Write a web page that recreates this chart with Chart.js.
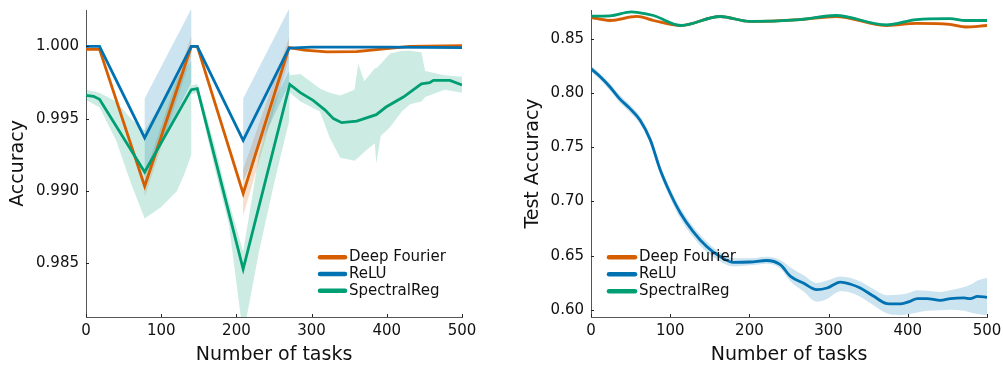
<!DOCTYPE html>
<html>
<head>
<meta charset="utf-8">
<script src="https://cdn.jsdelivr.net/npm/chart.js@4.4.0/dist/chart.umd.min.js"></script>
<style>
  html, body { margin: 0; padding: 0; background: #fff; }
  #wrap { position: relative; width: 1003px; height: 366px; }
  .box { position: absolute; top: 0; height: 366px; }
  #leftBox { left: 0; width: 490px; }
  #rightBox { left: 490px; width: 513px; }
</style>
</head>
<body>
<div id="wrap">
  <div class="box" id="leftBox"><canvas id="leftChart"></canvas></div>
  <div class="box" id="rightBox"><canvas id="rightChart"></canvas></div>
</div>
<script>
const taskTicks = [0, 100, 200, 300, 400, 500];
const leftYTicks = [0.985, 0.990, 0.995, 1.000];
const rightYTicks = [0.60, 0.65, 0.70, 0.75, 0.80, 0.85];

// left panel: accuracy
const fourierX = [0, 18, 78, 140, 148, 209, 270, 290, 320, 360, 400, 430, 500];
const fourierAcc = [0.99980, 0.99980, 0.99033, 1.00000, 1.00000, 0.98983, 0.99992, 0.99975, 0.99962, 0.99964, 0.99985, 1.00000, 1.00005];
const reluX = [0, 18, 78, 140, 148, 209, 270, 300, 400, 500];
const reluAcc = [1.00000, 1.00000, 0.99367, 1.00000, 1.00000, 0.99351, 0.99988, 0.99995, 0.99995, 0.99992];
const spectralX = [0, 10, 18, 78, 140, 148, 209, 271, 285, 302, 318, 329, 340, 360, 386, 399, 422, 446, 457, 462, 484, 500];
const spectralAcc = [0.99662, 0.99655, 0.99634, 0.99132, 0.99701, 0.99708, 0.98460, 0.99738, 0.99680, 0.99627, 0.99560, 0.99501, 0.99473, 0.99484, 0.99528, 0.99581, 0.99650, 0.99742, 0.99749, 0.99765, 0.99765, 0.99733];

const fourierBandX = [0, 18, 78, 78, 140, 140, 148, 209, 209, 270, 270, 320, 400, 500];
const fourierLo = [0.99975, 0.99975, 0.99033, 0.98960, 0.99930, 1.00000, 1.00000, 0.98983, 0.98830, 0.99920, 0.99992, 0.99955, 0.99978, 1.00002];
const fourierHi = [0.99985, 0.99985, 0.99033, 0.99110, 1.00070, 1.00000, 1.00000, 0.98983, 0.99150, 1.00060, 0.99992, 0.99970, 0.99992, 1.00008];
const reluBandX = [0, 18, 78, 78, 140, 140, 148, 209, 209, 270, 270, 500];
const reluLo = [1.00000, 1.00000, 0.99367, 0.99100, 0.99750, 1.00000, 1.00000, 0.99351, 0.99070, 0.99740, 0.99988, 0.99992];
const reluHi = [1.00000, 1.00000, 0.99367, 0.99640, 1.00260, 1.00000, 1.00000, 0.99351, 0.99640, 1.00260, 0.99988, 0.99992];
const spectralBandX = [0, 18, 40, 60, 78, 100, 121, 131, 140, 140, 148, 170, 190, 209, 230, 250, 270, 271, 285, 311, 324, 338, 357, 362, 370, 384, 386, 392, 404, 420, 431, 446, 451, 477, 500];
const spectralLo = [0.9963, 0.9958, 0.9935, 0.9905, 0.9881, 0.9889, 0.9900, 0.9912, 0.9925, 0.9967, 0.9968, 0.9918, 0.9877, 0.9800, 0.9858, 0.9905, 0.9948, 0.9968, 0.9962, 0.9955, 0.9937, 0.9923, 0.9921, 0.9923, 0.9927, 0.9933, 0.9919, 0.9938, 0.9944, 0.9955, 0.9960, 0.9962, 0.9965, 0.9970, 0.9968];
const spectralHi = [0.9970, 0.9968, 0.9962, 0.9950, 0.9942, 0.9960, 0.9978, 0.9984, 0.9990, 0.9973, 0.9974, 0.9934, 0.9893, 0.9858, 0.9925, 0.9962, 0.9983, 0.9980, 0.9981, 0.9971, 0.9968, 0.9966, 0.9970, 0.9988, 0.9976, 0.9985, 0.9985, 0.9988, 0.9995, 0.9997, 0.9997, 0.9996, 0.9983, 0.9980, 0.9979];

// right panel: test accuracy
const testX = [0, 12, 24, 36, 49, 62, 75, 87, 100, 113, 129, 146, 163, 180, 201, 222, 239, 252, 268, 285, 298, 315, 327, 340, 357, 374, 391, 403, 412, 424, 441, 454, 471, 479, 488, 500];
const reluTest = [0.8227, 0.8150, 0.8058, 0.7950, 0.7860, 0.7751, 0.7567, 0.7300, 0.7076, 0.6892, 0.6722, 0.6584, 0.6492, 0.6437, 0.6441, 0.6455, 0.6416, 0.6308, 0.6247, 0.6186, 0.6201, 0.6256, 0.6238, 0.6201, 0.6124, 0.6057, 0.6054, 0.6078, 0.6103, 0.6103, 0.6087, 0.6103, 0.6109, 0.6103, 0.6124, 0.6115];
const reluTestHi = [0.8255, 0.8180, 0.8090, 0.7985, 0.7895, 0.7785, 0.7605, 0.7340, 0.7120, 0.6938, 0.6770, 0.6630, 0.6530, 0.6475, 0.6475, 0.6490, 0.6460, 0.6390, 0.6320, 0.6247, 0.6270, 0.6308, 0.6295, 0.6260, 0.6190, 0.6135, 0.6140, 0.6160, 0.6180, 0.6175, 0.6165, 0.6180, 0.6210, 0.6230, 0.6270, 0.6296];
const reluTestLo = [0.8200, 0.8120, 0.8025, 0.7915, 0.7825, 0.7715, 0.7530, 0.7260, 0.7030, 0.6840, 0.6670, 0.6535, 0.6446, 0.6400, 0.6410, 0.6425, 0.6380, 0.6260, 0.6170, 0.6075, 0.6100, 0.6170, 0.6160, 0.6120, 0.6040, 0.5965, 0.5950, 0.5960, 0.5975, 0.5990, 0.5995, 0.6000, 0.5990, 0.5975, 0.5960, 0.5949];
const topX = [0, 24, 51, 58, 79, 113, 163, 201, 264, 309, 373, 411, 453, 473, 500];
const fourierTest = [0.8700, 0.8672, 0.8705, 0.8710, 0.8672, 0.8626, 0.8709, 0.8663, 0.8681, 0.8709, 0.8626, 0.8645, 0.8636, 0.8612, 0.8626];
const fourierTestHi = [0.8712, 0.8690, 0.8720, 0.8722, 0.8685, 0.8640, 0.8719, 0.8675, 0.8692, 0.8720, 0.8640, 0.8657, 0.8648, 0.8625, 0.8636];
const fourierTestLo = [0.8690, 0.8655, 0.8690, 0.8698, 0.8660, 0.8612, 0.8699, 0.8651, 0.8670, 0.8698, 0.8612, 0.8633, 0.8624, 0.8600, 0.8616];
const spectralTest = [0.8712, 0.8715, 0.8752, 0.8748, 0.8718, 0.8626, 0.8709, 0.8663, 0.8681, 0.8718, 0.8631, 0.8681, 0.8690, 0.8672, 0.8672];
const spectralTestHi = [0.8722, 0.8725, 0.8760, 0.8757, 0.8728, 0.8642, 0.8718, 0.8676, 0.8692, 0.8728, 0.8645, 0.8692, 0.8699, 0.8681, 0.8680];
const spectralTestLo = [0.8702, 0.8703, 0.8744, 0.8739, 0.8706, 0.8610, 0.8699, 0.8650, 0.8670, 0.8708, 0.8619, 0.8670, 0.8681, 0.8663, 0.8664];

const ORANGE = '#D55E00', BLUE = '#0072B2', GREEN = '#009E73';
const ORANGE_BAND = 'rgba(213,94,0,0.2)', BLUE_BAND = 'rgba(0,114,178,0.2)', GREEN_BAND = 'rgba(0,158,115,0.2)';

Chart.defaults.font.family = "'DejaVu Sans', sans-serif";
Chart.defaults.font.size = 15;
Chart.defaults.color = '#111';
Chart.defaults.animation = false;

function pts(xs, ys) {
  return xs.map((x, i) => ({x: x, y: ys[i]}));
}

function line(label, xs, ys, color, order, smooth) {
  return {
    label: label, data: pts(xs, ys), borderColor: color, borderWidth: 2.8,
    pointRadius: 0, fill: false, order: order, legend: true,
    cubicInterpolationMode: smooth ? 'monotone' : 'default'
  };
}

// upper edge fills down to the next dataset (lower edge)
function band(xs, lo, hi, color, order, smooth) {
  const common = {pointRadius: 0, borderWidth: 0, borderColor: 'rgba(0,0,0,0)', order: order,
    cubicInterpolationMode: smooth ? 'monotone' : 'default'};
  return [
    Object.assign({label: 'hi', data: pts(xs, hi), fill: '+1', backgroundColor: color}, common),
    Object.assign({label: 'lo', data: pts(xs, lo), fill: false}, common)
  ];
}

const lineLegend = {
  id: 'lineLegend',
  afterDraw(chart, args, opts) {
    const ctx = chart.ctx;
    const items = chart.data.datasets.filter(d => d.legend);
    ctx.save();
    ctx.font = "15px 'DejaVu Sans'";
    ctx.textBaseline = 'middle';
    items.forEach((d, i) => {
      const y = opts.top + i * opts.rowGap;
      ctx.strokeStyle = d.borderColor;
      ctx.lineWidth = 4.5;
      ctx.lineCap = 'round';
      ctx.beginPath();
      ctx.moveTo(opts.left + 2, y);
      ctx.lineTo(opts.left + opts.lineLen - 2, y);
      ctx.stroke();
      ctx.fillStyle = '#111';
      ctx.fillText(d.label, opts.left + opts.lineLen + 2, y);
    });
    ctx.restore();
  }
};

// short tick marks pointing into the plot
const innerTicks = {
  id: 'innerTicks',
  afterDraw(chart) {
    const {ctx, chartArea: a} = chart;
    const xs = chart.scales.x, ys = chart.scales.y;
    ctx.save();
    ctx.strokeStyle = '#222';
    ctx.lineWidth = 1;
    xs.ticks.forEach(t => {
      const px = Math.round(xs.getPixelForValue(t.value)) + 0.5;
      ctx.beginPath(); ctx.moveTo(px, a.bottom); ctx.lineTo(px, a.bottom - 3); ctx.stroke();
    });
    ys.ticks.forEach(t => {
      const py = Math.round(ys.getPixelForValue(t.value)) + 0.5;
      ctx.beginPath(); ctx.moveTo(a.left, py); ctx.lineTo(a.left + 3, py); ctx.stroke();
    });
    ctx.restore();
  }
};

function makeOptions(p) {
  return {
    responsive: true,
    maintainAspectRatio: false,
    layout: {autoPadding: false, padding: {top: 10, right: p.padRight, left: 0, bottom: 0}},
    plugins: {
      legend: {display: false},
      tooltip: {enabled: false},
      lineLegend: p.legend
    },
    scales: {
      x: {
        type: 'linear', min: 0, max: 500,
        grid: {display: false, drawTicks: false},
        border: {display: true, color: '#555', width: 1},
        afterBuildTicks: s => { s.ticks = taskTicks.map(v => ({value: v})); },
        afterFit: s => { s.height = 49; s.paddingLeft = 0; s.paddingRight = 0; },
        ticks: {padding: 5, maxRotation: 0, font: {size: 15}, callback: v => String(v)},
        title: {display: true, text: 'Number of tasks', font: {size: 19}, color: '#111', padding: {top: 2.3, bottom: 0}}
      },
      y: {
        type: 'linear', min: p.yMin, max: p.yMax,
        grid: {display: false, drawTicks: false},
        border: {display: true, color: '#555', width: 1},
        afterBuildTicks: s => { s.ticks = p.yTicks.map(v => ({value: v})); },
        afterFit: s => { s.width = p.yWidth; s.paddingTop = 0; s.paddingBottom = 0; },
        ticks: {padding: 7, font: {size: 15}, callback: v => v.toFixed(p.digits)},
        title: {display: true, text: p.yTitle, font: {size: 19}, color: '#111', padding: {top: p.titlePad, bottom: 0}}
      }
    }
  };
}

new Chart(document.getElementById('leftChart'), {
  type: 'line',
  data: {
    datasets: [
      line('Deep Fourier', fourierX, fourierAcc, ORANGE, 2, false),
      line('ReLU', reluX, reluAcc, BLUE, 1, false),
      line('SpectralReg', spectralX, spectralAcc, GREEN, 0, false),
      ...band(fourierBandX, fourierLo, fourierHi, ORANGE_BAND, 5, false),
      ...band(reluBandX, reluLo, reluHi, BLUE_BAND, 4, false),
      ...band(spectralBandX, spectralLo, spectralHi, GREEN_BAND, 3, false)
    ]
  },
  options: makeOptions({
    padRight: 28, yMin: 0.98129, yMax: 1.00252, yTicks: leftYTicks, digits: 3,
    yWidth: 86, yTitle: 'Accuracy', titlePad: 6.6,
    legend: {left: 318, top: 257.3, rowGap: 16.7, lineLen: 29}
  }),
  plugins: [lineLegend, innerTicks]
});

new Chart(document.getElementById('rightChart'), {
  type: 'line',
  data: {
    datasets: [
      line('Deep Fourier', topX, fourierTest, ORANGE, 2, true),
      line('ReLU', testX, reluTest, BLUE, 1, true),
      line('SpectralReg', topX, spectralTest, GREEN, 0, true),
      ...band(topX, fourierTestLo, fourierTestHi, ORANGE_BAND, 5, true),
      ...band(testX, reluTestLo, reluTestHi, BLUE_BAND, 4, true),
      ...band(topX, spectralTestLo, spectralTestHi, GREEN_BAND, 3, true)
    ]
  },
  options: makeOptions({
    padRight: 16, yMin: 0.5933, yMax: 0.8769, yTicks: rightYTicks, digits: 2,
    yWidth: 101, yTitle: 'Test Accuracy', titlePad: 31.6,
    legend: {left: 117, top: 257.3, rowGap: 17, lineLen: 30}
  }),
  plugins: [lineLegend, innerTicks]
});
</script>
</body>
</html>
